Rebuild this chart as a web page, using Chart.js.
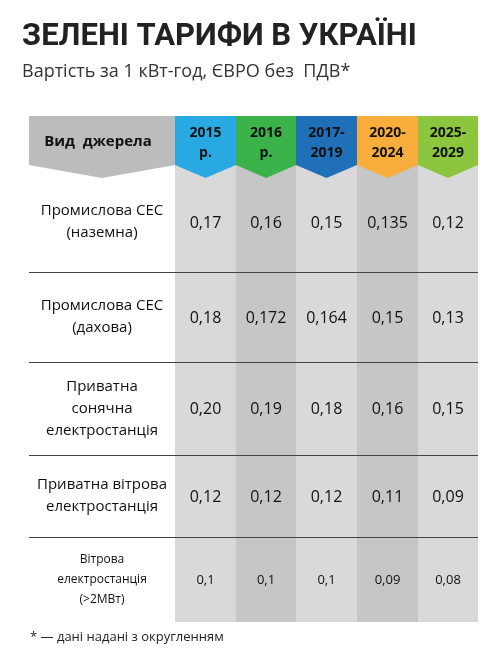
<!DOCTYPE html>
<html>
<head>
<meta charset="utf-8">
<script src="https://cdn.jsdelivr.net/npm/chart.js"></script>
<style>
  body { margin: 0; background: #fff; }
  canvas { display: block; }
</style>
</head>
<body>
<canvas id="tariffChart" width="500" height="657"></canvas>
<script>
// table content
const title = 'ЗЕЛЕНІ ТАРИФИ В УКРАЇНІ';
const subtitle = 'Вартість за 1 кВт-год, ЄВРО без  ПДВ*';
const footnote = '* — дані надані з округленням';
const headerLabel = 'Вид  джерела';
const years = [['2015', 'р.'], ['2016', 'р.'], ['2017-', '2019'], ['2020-', '2024'], ['2025-', '2029']];
const categories = [
  ['Промислова СЕС', '(наземна)'],
  ['Промислова СЕС', '(дахова)'],
  ['Приватна', 'сонячна', 'електростанція'],
  ['Приватна вітрова', 'електростанція'],
  ['Вітрова', 'електростанція', '(>2МВт)']
];
const v2015 = ['0,17', '0,18', '0,20', '0,12', '0,1'];
const v2016 = ['0,16', '0,172', '0,19', '0,12', '0,1'];
const v2017 = ['0,15', '0,164', '0,18', '0,12', '0,1'];
const v2020 = ['0,135', '0,15', '0,16', '0,11', '0,09'];
const v2025 = ['0,12', '0,13', '0,15', '0,09', '0,08'];
const series = [v2015, v2016, v2017, v2020, v2025];

// layout in scale units
const colEdges = [29, 175, 236, 296, 357, 418, 478];
const rowEdges = [172, 272, 362, 455, 537, 622];
const headColors = ['#29a9e1', '#3bb34a', '#1f70b8', '#f9ad3c', '#8cc63f'];
const colBg = ['#d9d9d9', '#c6c6c6', '#d9d9d9', '#c6c6c6', '#d9d9d9'];
const FONT = '"Open Sans", "DejaVu Sans", sans-serif';

const tablePlugin = {
  id: 'table',
  afterDraw(chart) {
    const ctx = chart.ctx, xs = chart.scales.x, ys = chart.scales.y;
    const X = v => xs.getPixelForValue(v), Y = v => ys.getPixelForValue(v);
    ctx.save();
    ctx.textBaseline = 'middle';
    // titles
    ctx.fillStyle = '#222';
    ctx.font = 'bold 31px Roboto, ' + FONT;
    ctx.fillText(title, X(22), Y(37));
    ctx.fillStyle = '#333';
    ctx.font = '18px ' + FONT;
    ctx.fillText(subtitle, X(22), Y(72));
    // data column backgrounds
    for (let c = 0; c < 5; c++) {
      ctx.fillStyle = colBg[c];
      ctx.fillRect(X(colEdges[c + 1]), Y(160), X(colEdges[c + 2]) - X(colEdges[c + 1]), Y(rowEdges[5]) - Y(160));
    }
    // header cell with chevron
    const chev = (x0, x1, col) => {
      ctx.fillStyle = col;
      ctx.beginPath();
      ctx.moveTo(X(x0), Y(116));
      ctx.lineTo(X(x1), Y(116));
      ctx.lineTo(X(x1), Y(165));
      ctx.lineTo(X((x0 + x1) / 2), Y(178));
      ctx.lineTo(X(x0), Y(165));
      ctx.closePath();
      ctx.fill();
    };
    chev(colEdges[0], colEdges[1], '#bcbcbc');
    ctx.fillStyle = '#111';
    ctx.textAlign = 'center';
    ctx.font = 'bold 15px ' + FONT;
    ctx.fillText(headerLabel, X(98), Y(142));
    for (let c = 0; c < 5; c++) {
      chev(colEdges[c + 1], colEdges[c + 2], headColors[c]);
      ctx.fillStyle = '#111';
      ctx.font = 'bold 14px ' + FONT;
      const cx = X((colEdges[c + 1] + colEdges[c + 2]) / 2);
      ctx.fillText(years[c][0], cx, Y(133));
      ctx.fillText(years[c][1], cx, Y(153));
    }
    // row separators
    ctx.strokeStyle = '#444';
    ctx.lineWidth = 1;
    for (let r = 1; r < rowEdges.length - 1; r++) {
      ctx.beginPath();
      ctx.moveTo(X(colEdges[0]), Y(rowEdges[r]) + 0.5);
      ctx.lineTo(X(colEdges[6]), Y(rowEdges[r]) + 0.5);
      ctx.stroke();
    }
    // rows
    for (let r = 0; r < categories.length; r++) {
      const cy = (rowEdges[r] + rowEdges[r + 1]) / 2;
      const small = r === categories.length - 1;
      const lh = small ? 20 : 22;
      ctx.fillStyle = '#111';
      ctx.font = (small ? '12px ' : '15px ') + FONT;
      const lines = categories[r];
      lines.forEach((t, i) => {
        ctx.fillText(t, X(102), Y(cy + (i - (lines.length - 1) / 2) * lh));
      });
      ctx.font = (small ? '13px ' : '16px ') + FONT;
      for (let c = 0; c < 5; c++) {
        ctx.fillText(series[c][r], X((colEdges[c + 1] + colEdges[c + 2]) / 2), Y(cy + 1));
      }
    }
    ctx.textAlign = 'left';
    ctx.font = '13px ' + FONT;
    ctx.fillStyle = '#222';
    ctx.fillText(footnote, X(30), Y(637));
    ctx.restore();
  }
};

new Chart(document.getElementById('tariffChart'), {
  type: 'scatter',
  data: { datasets: [{ data: [] }] },
  options: {
    responsive: false,
    animation: false,
    layout: { padding: 0 },
    plugins: { legend: { display: false }, tooltip: { enabled: false } },
    scales: {
      x: { type: 'linear', min: 0, max: 500, display: false },
      y: { type: 'linear', min: 0, max: 657, reverse: true, display: false }
    }
  },
  plugins: [tablePlugin]
});
</script>
</body>
</html>
